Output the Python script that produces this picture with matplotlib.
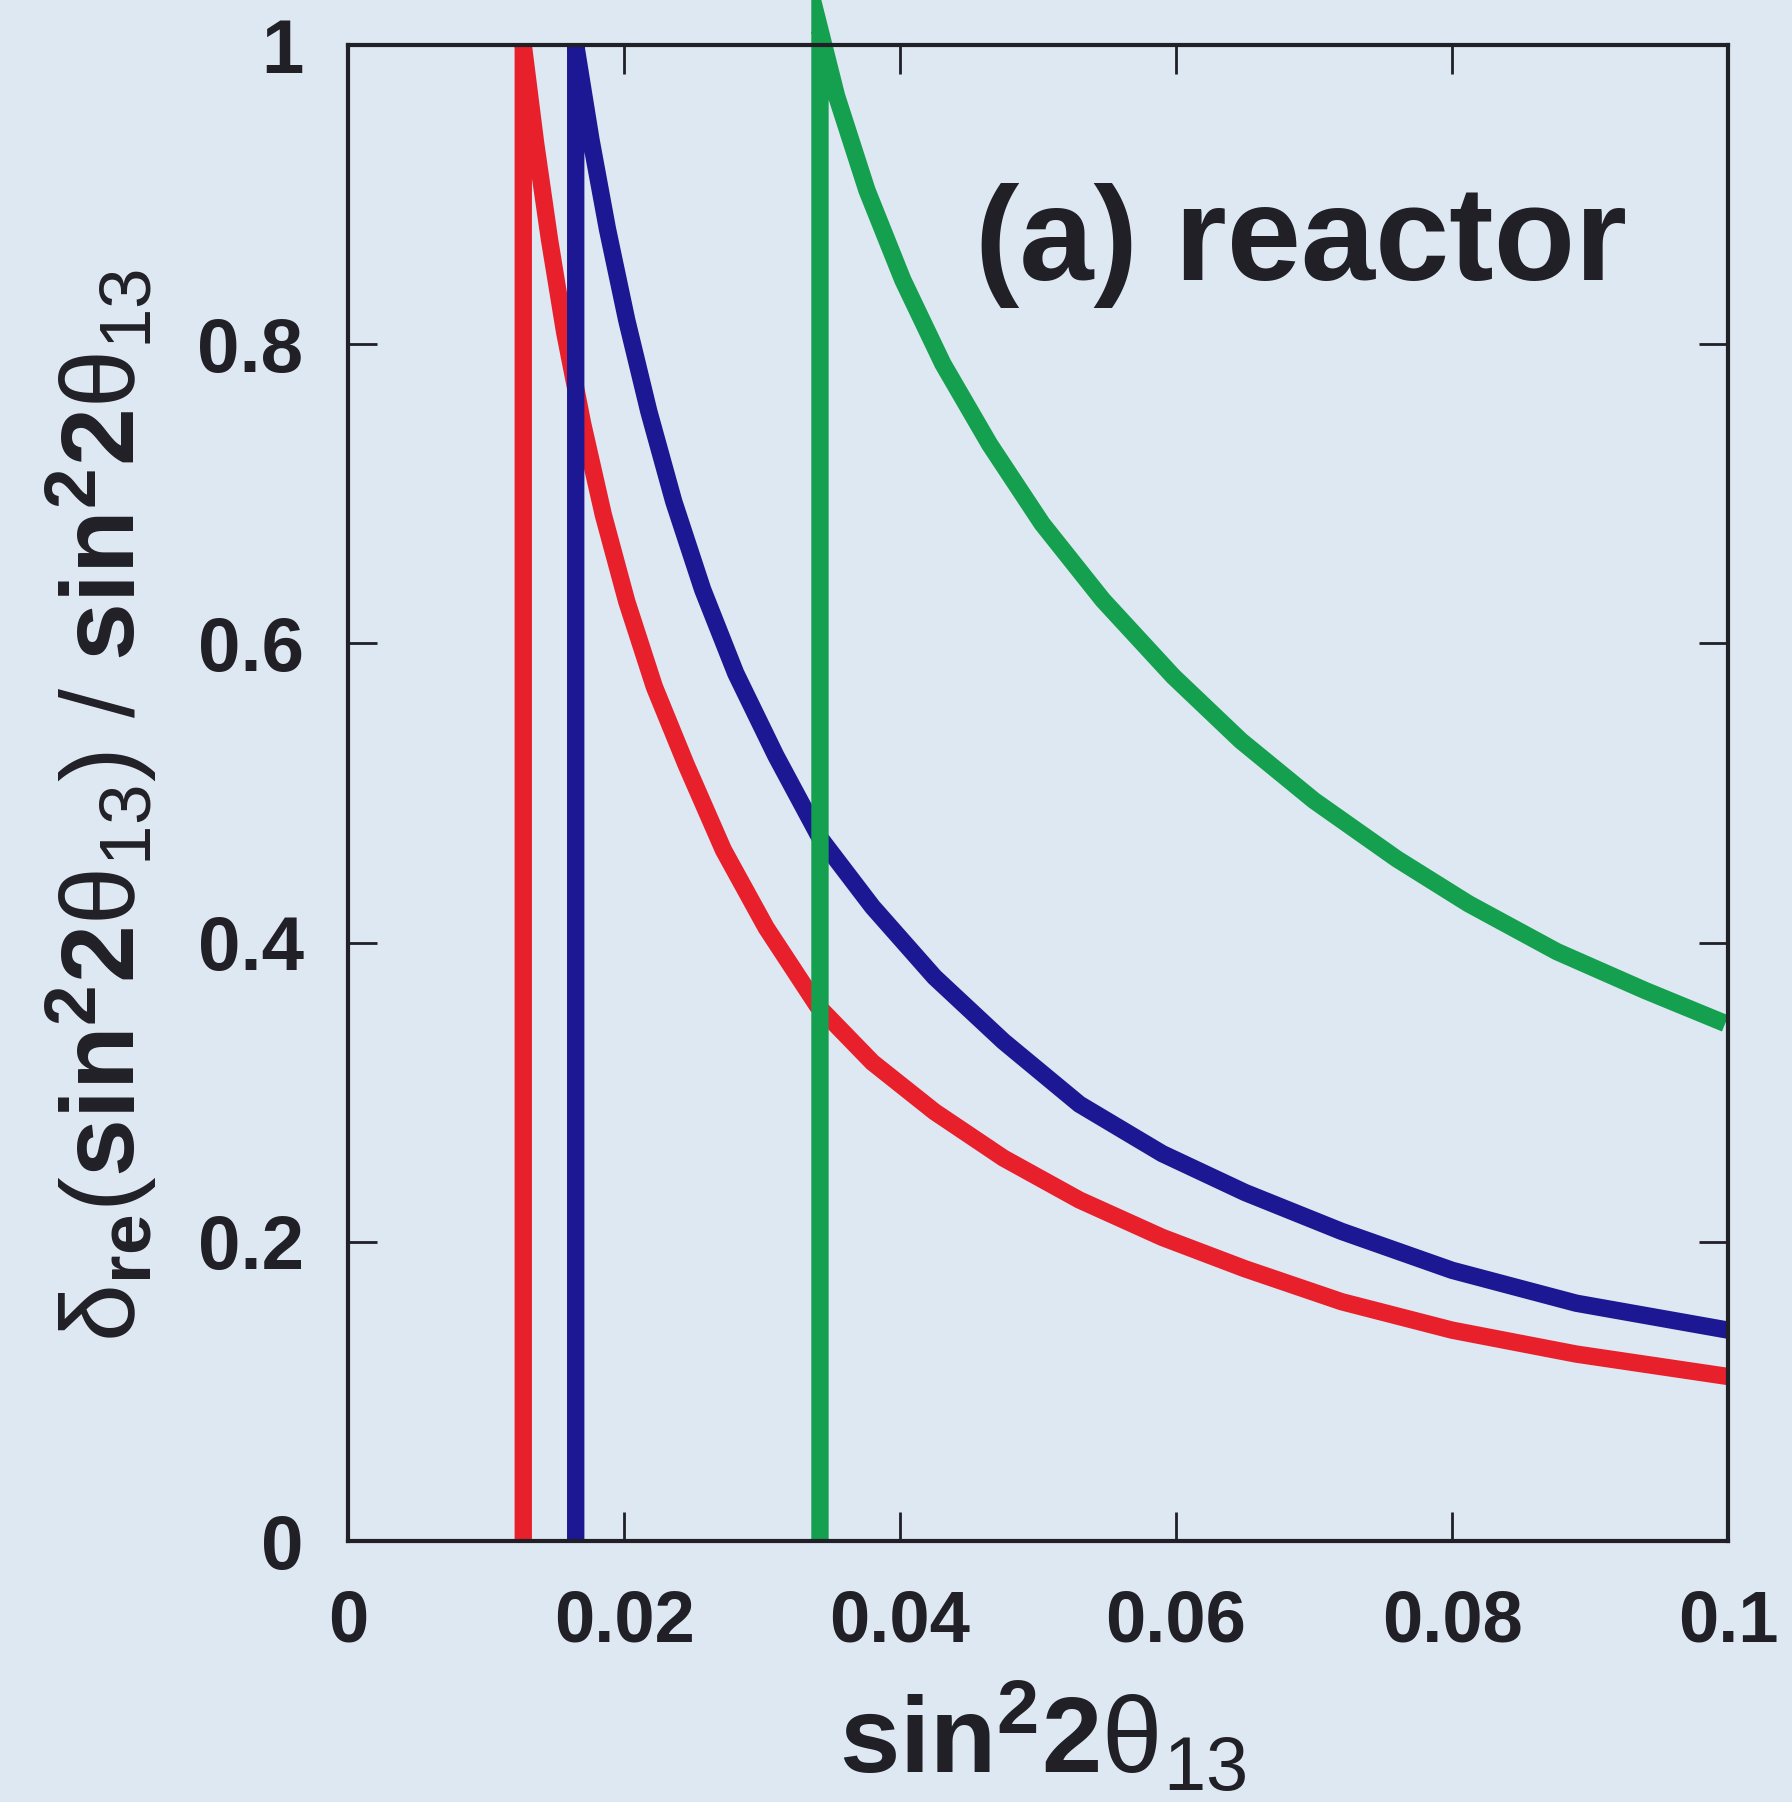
import numpy as np
import matplotlib.pyplot as plt

plt.rcParams['font.family'] = ['Liberation Sans', 'DejaVu Sans']
plt.rcParams['mathtext.fontset'] = 'custom'
plt.rcParams['mathtext.rm'] = 'Liberation Sans'
plt.rcParams['mathtext.bf'] = 'Liberation Sans:bold'
plt.rcParams['mathtext.it'] = 'Liberation Sans:italic'

# delta_re / sin^2 2theta13 against sin^2 2theta13; each curve starts with the
# vertical edge at its threshold value, then falls off to the right
red_x = [0.0127, 0.0127, 0.0136, 0.0146, 0.0157, 0.0170, 0.0185, 0.0202, 0.0222, 0.0245,
         0.0272, 0.0303, 0.0340, 0.0380, 0.0425, 0.0475, 0.0530, 0.0590, 0.0650, 0.0720,
         0.0800, 0.0890, 0.1000]
red_y = [0.0, 1.0, 0.934, 0.870, 0.808, 0.747, 0.686, 0.628, 0.571, 0.519,
         0.462, 0.410, 0.358, 0.320, 0.287, 0.256, 0.228, 0.203, 0.182, 0.160,
         0.141, 0.125, 0.110]

blue_x = [0.0165, 0.0165, 0.0176, 0.0188, 0.0202, 0.0218, 0.0236, 0.0257, 0.0281, 0.0310,
          0.0342, 0.0380, 0.0425, 0.0475, 0.0530, 0.0590, 0.0650, 0.0720, 0.0800, 0.0890,
          0.1000]
blue_y = [0.0, 1.0, 0.937, 0.877, 0.816, 0.755, 0.695, 0.636, 0.580, 0.525,
          0.470, 0.424, 0.377, 0.334, 0.292, 0.259, 0.233, 0.207, 0.181, 0.159,
          0.141]

green_x = [0.0342, 0.0342, 0.0354, 0.0376, 0.0402, 0.0431, 0.0465, 0.0503, 0.0547, 0.0598,
           0.0647, 0.0700, 0.0760, 0.0812, 0.0876, 0.0940, 0.0998]
green_y = [0.0, 1.01, 0.966, 0.903, 0.843, 0.787, 0.733, 0.680, 0.629, 0.578,
           0.535, 0.495, 0.456, 0.426, 0.394, 0.368, 0.346]

xticks = [0, 0.02, 0.04, 0.06, 0.08, 0.1]
xticklabels = ['0', '0.02', '0.04', '0.06', '0.08', '0.1']
yticks = [0, 0.2, 0.4, 0.6, 0.8, 1.0]
yticklabels = ['0', '0.2', '0.4', '0.6', '0.8', '1']

bg = '#dde8f2'
ink = '#202026'

fig = plt.figure(figsize=(17.92, 18.02), dpi=100, facecolor=bg)
ax = fig.add_axes([0.1942, 0.1448, 0.7701, 0.8302])
ax.set_facecolor(bg)

lw = 12.5
style = dict(lw=lw, solid_joinstyle='miter', solid_capstyle='butt')
ax.plot(red_x, red_y, color='#e8202c', **style)
ax.plot(blue_x, blue_y, color='#1c1894', **style)
# the green peak pokes out above the frame
ax.plot(green_x, green_y, color='#14a04e', clip_on=False, **style)

ax.set_xlim(0, 0.1)
ax.set_ylim(0, 1)
ax.set_xticks(xticks)
ax.set_xticklabels(xticklabels)
ax.set_yticks(yticks)
ax.set_yticklabels(yticklabels)

for s in ax.spines.values():
    s.set_linewidth(3)
    s.set_color(ink)
ax.tick_params(direction='in', length=21, width=2, color=ink, top=True, right=True,
               labelcolor=ink)
ax.tick_params(axis='x', pad=34, labelsize=52)
ax.tick_params(axis='y', pad=32, labelsize=55)
for lab in ax.get_xticklabels() + ax.get_yticklabels():
    lab.set_fontweight('bold')

ax.text(0.0454, 0.843, '(a) reactor', fontsize=96, fontweight='bold', color=ink,
        ha='left', va='baseline')

fig.text(0.582, 0.016, r'$\mathbf{sin}^{\mathbf{2}}\mathbf{2}\mathrm{\theta}_{\mathrm{13}}$',
         fontsize=78, color=ink, ha='center', va='baseline')
fig.text(0.0755, 0.553,
         r'$\mathrm{\delta}_{\mathbf{re}}(\mathbf{sin}^{\mathbf{2}}\mathbf{2}\mathrm{\theta}_{\mathrm{13}})'
         r'\ /\ \mathbf{sin}^{\mathbf{2}}\mathbf{2}\mathrm{\theta}_{\mathrm{13}}$',
         fontsize=75, color=ink, rotation=90, rotation_mode='anchor', ha='center', va='baseline')

fig.savefig('out.png', dpi=100, facecolor=bg)
